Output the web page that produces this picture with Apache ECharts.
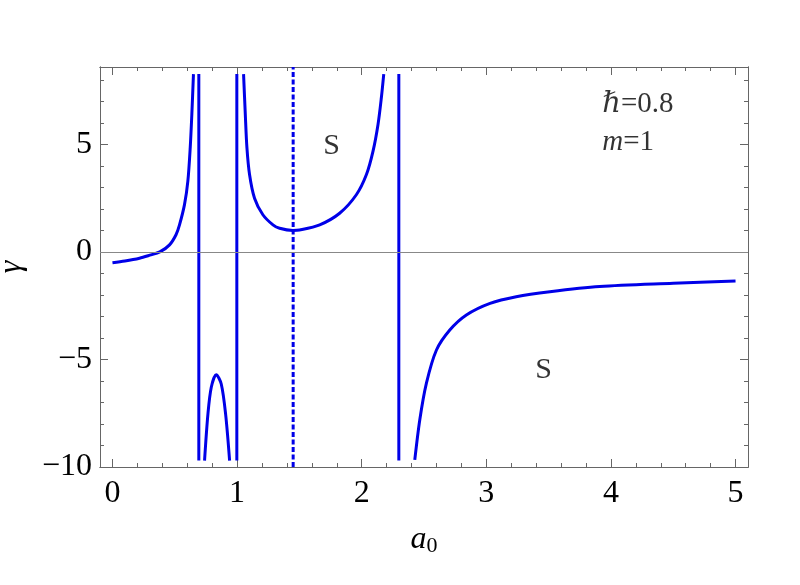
<!DOCTYPE html>
<html>
<head>
<meta charset="utf-8">
<script src="https://cdn.jsdelivr.net/npm/echarts@6/dist/echarts.min.js"></script>
<style>
  html, body { margin: 0; padding: 0; background: #fff; }
  #chart { width: 800px; height: 585px; }
</style>
</head>
<body>
<div id="chart"></div>
<script>
const FONT = "'Liberation Serif', 'DejaVu Serif', serif"
const BLUE = '#0000e8'
const FRAME = '#666666'

const X_MIN = -0.1
const X_MAX = 5.1
const Y_MIN = -10
const Y_MAX = 8.6

const xTicks = [0, 1, 2, 3, 4, 5]
const yTicks = [-10, -5, 0, 5]

// gamma(a0) branches
const branchLeft = [
  [0, -0.5], [0.1, -0.42], [0.217, -0.29], [0.3, -0.15], [0.38, 0], [0.458, 0.33],
  [0.51, 0.8], [0.538, 1.26], [0.578, 2.2], [0.605, 3.29], [0.624, 4.85],
  [0.637, 6.4], [0.65, 8.27],
]
const branchHump = [
  [0.739, -9.7], [0.766, -7.54], [0.793, -6.29], [0.833, -5.71],
  [0.873, -6.14], [0.908, -7.54], [0.94, -9.7],
]
const branchMiddle = [
  [1.052, 8.27], [1.066, 6.4], [1.079, 4.85], [1.1, 3.6], [1.14, 2.5],
  [1.207, 1.73], [1.288, 1.26], [1.341, 1.1], [1.448, 1.0], [1.502, 1.02],
  [1.663, 1.26], [1.823, 1.8], [1.957, 2.66], [2.038, 3.6], [2.091, 4.69],
  [2.131, 5.93], [2.158, 7.18], [2.177, 8.27],
]
const branchRight = [
  [2.426, -9.67], [2.466, -7.81], [2.519, -6.11], [2.6, -4.56], [2.707, -3.63],
  [2.84, -2.93], [3.03, -2.39], [3.24, -2.08], [3.51, -1.85], [3.91, -1.61],
  [4.5, -1.46], [5, -1.35],
]

// vertical jumps across the poles, and the dashed marker
const jumpXs = [0.693, 0.998, 2.298]
const jumpSpan = [-9.7, 8.27]
const dashedX = 1.45

const sLabels = [[1.759, 4.92], [3.46, -5.49]]
const paramLabels = [
  [3.93, 6.87, '{i|ℏ}{t|=0.8}'],
  [3.93, 5.09, '{i|m}{t|=1}'],
]

const xMinor = []
for (let i = 0; i <= 25; i++) if (i % 5 !== 0) xMinor.push(i / 5)
const yMinor = []
for (let v = -10; v <= 8; v++) if (v % 5 !== 0) yMinor.push(v)

const fmt = v => String(v).replace('-', '\u2212')

function xAxisDef(position, values, len, showLabel) {
  return {
    type: 'value', position, min: X_MIN, max: X_MAX,
    axisLine: { show: true, onZero: false, lineStyle: { color: FRAME, width: 1 } },
    axisTick: { show: true, inside: true, length: len, customValues: values, lineStyle: { color: FRAME, width: 1 } },
    axisLabel: {
      show: showLabel, customValues: values, formatter: fmt, margin: 11,
      fontFamily: FONT, fontSize: 32, color: '#000',
    },
    splitLine: { show: false },
  }
}

function yAxisDef(position, values, len, showLabel) {
  return {
    type: 'value', position, min: Y_MIN, max: Y_MAX,
    axisLine: { show: true, onZero: false, lineStyle: { color: FRAME, width: 1 } },
    axisTick: { show: true, inside: true, length: len, customValues: values, lineStyle: { color: FRAME, width: 1 } },
    axisLabel: {
      show: showLabel, customValues: values, formatter: fmt, margin: 8,
      fontFamily: FONT, fontSize: 32, color: '#000',
    },
    splitLine: { show: false },
  }
}

const xAxes = [
  xAxisDef('bottom', xTicks, 8, true),
  xAxisDef('bottom', xMinor, 4, false),
  xAxisDef('top', xTicks, 8, false),
  xAxisDef('top', xMinor, 4, false),
]
Object.assign(xAxes[0], {
  name: '{a|a}{s|0}',
  nameLocation: 'middle',
  nameGap: 56,
  nameTextStyle: {
    rich: {
      a: { fontFamily: FONT, fontSize: 32, fontStyle: 'italic', color: '#000' },
      s: { fontFamily: FONT, fontSize: 22, color: '#000', verticalAlign: 'bottom', padding: [12, 0, 0, 0] },
    },
  },
})

const yAxes = [
  yAxisDef('left', yTicks, 8, true),
  yAxisDef('left', yMinor, 4, false),
  yAxisDef('right', yTicks, 8, false),
  yAxisDef('right', yMinor, 4, false),
]
Object.assign(yAxes[0], {
  name: 'γ',
  nameLocation: 'middle',
  nameRotate: 90,
  nameGap: 72,
  nameTextStyle: { fontFamily: FONT, fontSize: 32, fontStyle: 'italic', color: '#000' },
})

function curve(data) {
  return {
    type: 'line', data, showSymbol: false, symbol: 'none',
    smooth: 0.3,
    lineStyle: { color: BLUE, width: 3 }, silent: true, z: 3,
  }
}

const series = [
  {
    type: 'line', data: [], silent: true,
    markLine: {
      silent: true, symbol: 'none', label: { show: false },
      lineStyle: { color: '#888', width: 1, type: 'solid' },
      data: [{ yAxis: 0 }],
    },
  },
  curve(branchLeft),
  curve(branchHump),
  curve(branchMiddle),
  curve(branchRight),
  ...jumpXs.map(x => ({
    type: 'line', data: jumpSpan.map(y => [x, y]), showSymbol: false, symbol: 'none',
    lineStyle: { color: BLUE, width: 3 }, silent: true, z: 3,
  })),
  {
    type: 'line', data: [[dashedX, Y_MIN], [dashedX, Y_MAX]], showSymbol: false, symbol: 'none',
    lineStyle: { color: BLUE, width: 3, type: [5, 2.5] }, silent: true, z: 3,
  },
  {
    type: 'scatter', symbolSize: 0, silent: true,
    itemStyle: { color: '#000' },
    data: sLabels,
    label: {
      show: true, position: 'inside', formatter: '{t|S}',
      color: '#000', textBorderWidth: 0,
      rich: { t: { fontFamily: FONT, fontSize: 30, color: '#000', textBorderWidth: 0 } },
    },
  },
  {
    type: 'scatter', symbolSize: 0, silent: true,
    itemStyle: { color: '#000' },
    data: paramLabels.map(p => ({ value: [p[0], p[1]], label: { formatter: p[2] } })),
    label: {
      show: true, position: 'right', distance: 0,
      color: '#000', textBorderWidth: 0,
      rich: {
        i: { fontFamily: FONT, fontSize: 29, fontStyle: 'italic', color: '#000', textBorderWidth: 0 },
        t: { fontFamily: FONT, fontSize: 29, color: '#000', textBorderWidth: 0 },
      },
    },
  },
]

const chart = echarts.init(document.getElementById('chart'))
chart.setOption({
  animation: false,
  backgroundColor: '#fff',
  grid: { left: 100, right: 52, top: 67, bottom: 118, outerBoundsMode: 'none' },
  xAxis: xAxes,
  yAxis: yAxes,
  series,
})
</script>
</body>
</html>
